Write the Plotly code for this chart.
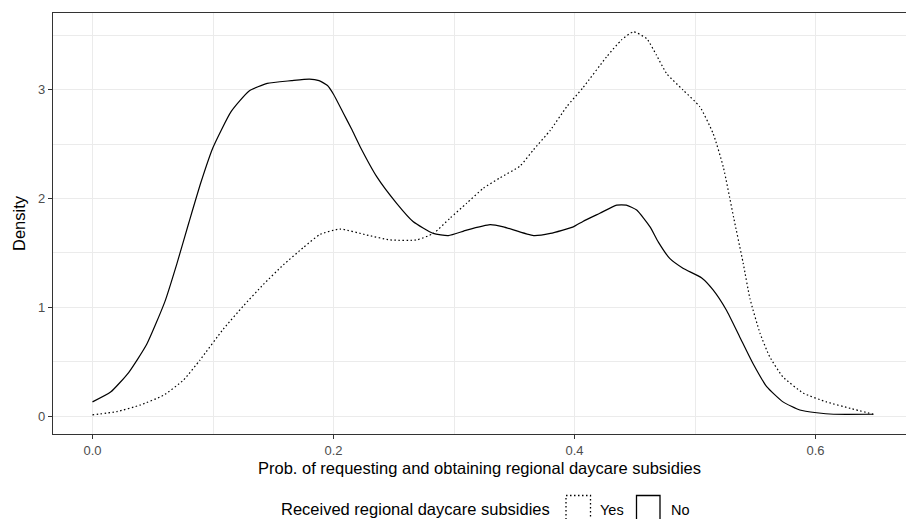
import plotly.graph_objects as go

# ---- data ----
no_x = [0.0, 0.015, 0.03, 0.045, 0.06, 0.07, 0.08, 0.09, 0.1, 0.115, 0.13, 0.145,
        0.165, 0.18, 0.188, 0.195, 0.2, 0.208, 0.215, 0.222, 0.236,
        0.2524, 0.266, 0.2828, 0.2953, 0.3105, 0.33, 0.341, 0.366, 0.38, 0.399, 0.407, 0.421,
        0.435, 0.443, 0.4516, 0.4627, 0.4696, 0.479, 0.49, 0.5056, 0.515, 0.526, 0.537, 0.548,
        0.5595, 0.573, 0.587, 0.601, 0.615, 0.648]
no_y = [0.13, 0.22, 0.40, 0.66, 1.05, 1.40, 1.78, 2.15, 2.47, 2.80, 2.99, 3.06,
        3.085, 3.10, 3.085, 3.04, 2.96, 2.79, 2.64, 2.48, 2.20,
        1.957, 1.79, 1.68, 1.66, 1.71, 1.76, 1.74, 1.66, 1.68, 1.74, 1.79, 1.865,
        1.94, 1.94, 1.895, 1.74, 1.60, 1.45, 1.36, 1.27, 1.16, 0.975, 0.73, 0.485,
        0.27, 0.13, 0.055, 0.03, 0.016, 0.016]

yes_x = [0.0, 0.02, 0.0394, 0.0588, 0.0754, 0.0892, 0.1086, 0.125, 0.1418, 0.1583, 0.175, 0.1888,
         0.2054, 0.2275, 0.247, 0.269, 0.283, 0.2967, 0.3105, 0.3243, 0.338, 0.3548, 0.366, 0.38,
         0.3935, 0.407, 0.4267, 0.439, 0.449, 0.46, 0.468, 0.4765, 0.49, 0.504, 0.515, 0.5235,
         0.532, 0.54, 0.5456, 0.554, 0.562, 0.573, 0.59, 0.609, 0.629, 0.648]
yes_y = [0.01, 0.04, 0.10, 0.19, 0.33, 0.515, 0.80, 1.01, 1.21, 1.39, 1.55, 1.67,
         1.72, 1.665, 1.62, 1.62, 1.68, 1.82, 1.957, 2.095, 2.19, 2.30, 2.45, 2.63,
         2.845, 3.02, 3.305, 3.46, 3.535, 3.47, 3.32, 3.15, 3.0, 2.845, 2.60, 2.29,
         1.83, 1.405, 1.08, 0.76, 0.545, 0.36, 0.21, 0.13, 0.07, 0.016]

x_tick_vals = [0.0, 0.2, 0.4, 0.6]
x_tick_text = ["0.0", "0.2", "0.4", "0.6"]
y_tick_vals = [0, 1, 2, 3]
y_tick_text = ["0", "1", "2", "3"]

x_title = "Prob. of requesting and obtaining regional daycare subsidies"
y_title = "Density"
legend_title = "Received regional daycare subsidies"
legend_labels = ["Yes", "No"]

# ---- layout constants ----
W, H = 906, 519
L, R, T, B = 53, 0, 13, 85
PW, PH = W - L - R, H - T - B
FONT = "Arial, Liberation Sans, sans-serif"
GRID = "#EBEBEB"
DARK = "#333333"


def px_x(p):
    return (p - L) / PW


def px_y(p):
    return (T + PH - p) / PH


fig = go.Figure()
fig.add_trace(go.Scatter(x=yes_x, y=yes_y, mode="lines", name=legend_labels[0],
                         line=dict(color="black", width=1.2, dash="1.5px,2.5px", shape="spline",
                                   smoothing=0.5),
                         showlegend=False))
fig.add_trace(go.Scatter(x=no_x, y=no_y, mode="lines", name=legend_labels[1],
                         line=dict(color="black", width=1.2, shape="spline", smoothing=0.5),
                         showlegend=False))

axis_common = dict(
    showgrid=True, gridcolor=GRID, gridwidth=1.1,
    zeroline=False, showline=True, linecolor=DARK, linewidth=1.2,
    ticks="outside", ticklen=4, tickcolor=DARK, tickwidth=1.1,
    tickfont=dict(family=FONT, size=13, color="#4D4D4D"),
)

fig.update_xaxes(
    **axis_common, mirror=True,
    range=[(L - 92.5) / 1205, (W - R - 92.5) / 1205],
    tickvals=x_tick_vals, ticktext=x_tick_text,
    minor=dict(dtick=0.1, tick0=0, showgrid=True, gridcolor=GRID, gridwidth=0.6, ticks=""),
    title=dict(text=x_title, font=dict(family=FONT, size=16.5, color="black"), standoff=5),
)
fig.update_yaxes(
    **axis_common, mirror=False,
    range=[(416 - (T + PH)) / 108.7, (416 - T) / 108.7],
    tickvals=y_tick_vals, ticktext=y_tick_text,
    minor=dict(dtick=0.5, tick0=0, showgrid=True, gridcolor=GRID, gridwidth=0.6, ticks=""),
    title=dict(text=y_title, font=dict(family=FONT, size=16.5, color="black"), standoff=8),
)

# manual legend (ggplot-style key boxes)
shapes = [
    dict(type="rect", xref="paper", yref="paper",
         x0=px_x(566), x1=px_x(590.5), y0=px_y(520), y1=px_y(495.5),
         line=dict(color="black", width=1.3, dash="1.5px,2.5px"), fillcolor="white", layer="above"),
    dict(type="rect", xref="paper", yref="paper",
         x0=px_x(636.5), x1=px_x(660), y0=px_y(520), y1=px_y(495.5),
         line=dict(color="black", width=1.3), fillcolor="white", layer="above"),
]
annotations = [
    dict(text=legend_title, xref="paper", yref="paper", x=px_x(552), y=px_y(509),
         xanchor="right", yanchor="middle", showarrow=False,
         font=dict(family=FONT, size=16.5, color="black")),
    dict(text=legend_labels[0], xref="paper", yref="paper", x=px_x(598), y=px_y(509.5),
         xanchor="left", yanchor="middle", showarrow=False,
         font=dict(family=FONT, size=14.5, color="black")),
    dict(text=legend_labels[1], xref="paper", yref="paper", x=px_x(669), y=px_y(509.5),
         xanchor="left", yanchor="middle", showarrow=False,
         font=dict(family=FONT, size=14.5, color="black")),
]

fig.update_layout(
    width=W, height=H,
    margin=dict(l=L, r=R, t=T, b=B, autoexpand=False),
    paper_bgcolor="white", plot_bgcolor="white",
    showlegend=False,
    shapes=shapes, annotations=annotations,
)

fig.write_html("out.html", config={"displayModeBar": False},
               post_script="document.body.style.margin='0px';")
